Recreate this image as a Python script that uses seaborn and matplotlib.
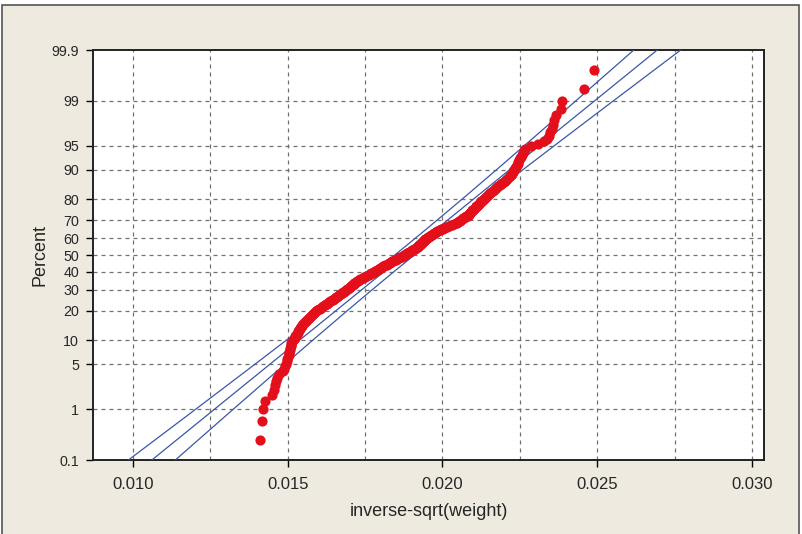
import matplotlib
matplotlib.use("Agg")
import matplotlib.pyplot as plt
from matplotlib.patches import Rectangle
from matplotlib.ticker import FixedLocator, NullFormatter
import numpy as np
import pandas as pd
import seaborn as sns
from statistics import NormalDist

# ---------------- data (sorted inverse-sqrt(weight) values) -------------
values = [
    0.014097, 0.014184, 0.014203, 0.014258, 0.014506, 0.014551, 0.014592, 0.014626, 0.014661, 0.014720,
    0.014845, 0.014881, 0.014918, 0.014955, 0.014974, 0.014991, 0.015008, 0.015026, 0.015043, 0.015055,
    0.015067, 0.015080, 0.015092, 0.015104, 0.015117, 0.015141, 0.015169, 0.015196, 0.015223, 0.015250,
    0.015277, 0.015299, 0.015320, 0.015341, 0.015362, 0.015383, 0.015404, 0.015424, 0.015445, 0.015466,
    0.015489, 0.015522, 0.015555, 0.015589, 0.015622, 0.015655, 0.015689, 0.015722, 0.015756, 0.015789,
    0.015822, 0.015856, 0.015889, 0.015922, 0.015959, 0.015997, 0.016035, 0.016073, 0.016112, 0.016150,
    0.016188, 0.016226, 0.016265, 0.016303, 0.016341, 0.016379, 0.016418, 0.016455, 0.016489, 0.016522,
    0.016555, 0.016589, 0.016622, 0.016655, 0.016689, 0.016722, 0.016756, 0.016789, 0.016822, 0.016856,
    0.016889, 0.016918, 0.016944, 0.016971, 0.016997, 0.017023, 0.017049, 0.017076, 0.017102, 0.017128,
    0.017154, 0.017181, 0.017207, 0.017233, 0.017260, 0.017301, 0.017341, 0.017382, 0.017423, 0.017463,
    0.017504, 0.017544, 0.017585, 0.017625, 0.017666, 0.017706, 0.017747, 0.017787, 0.017824, 0.017857,
    0.017891, 0.017924, 0.017958, 0.017991, 0.018025, 0.018058, 0.018091, 0.018125, 0.018158, 0.018192,
    0.018225, 0.018259, 0.018297, 0.018335, 0.018373, 0.018411, 0.018450, 0.018488, 0.018526, 0.018564,
    0.018602, 0.018640, 0.018679, 0.018717, 0.018755, 0.018789, 0.018821, 0.018852, 0.018883, 0.018914,
    0.018945, 0.018976, 0.019007, 0.019038, 0.019069, 0.019100, 0.019131, 0.019162, 0.019193, 0.019215,
    0.019236, 0.019258, 0.019279, 0.019301, 0.019322, 0.019344, 0.019365, 0.019387, 0.019408, 0.019429,
    0.019451, 0.019472, 0.019498, 0.019530, 0.019561, 0.019592, 0.019623, 0.019655, 0.019686, 0.019717,
    0.019749, 0.019780, 0.019819, 0.019866, 0.019914, 0.019961, 0.020009, 0.020057, 0.020104, 0.020157,
    0.020211, 0.020265, 0.020319, 0.020374, 0.020428, 0.020467, 0.020502, 0.020536, 0.020570, 0.020604,
    0.020638, 0.020672, 0.020706, 0.020740, 0.020775, 0.020809, 0.020841, 0.020862, 0.020883, 0.020904,
    0.020924, 0.020945, 0.020966, 0.020992, 0.021018, 0.021044, 0.021070, 0.021097, 0.021123, 0.021149,
    0.021175, 0.021202, 0.021228, 0.021254, 0.021280, 0.021307, 0.021336, 0.021371, 0.021407, 0.021442,
    0.021477, 0.021512, 0.021547, 0.021582, 0.021618, 0.021653, 0.021688, 0.021723, 0.021763, 0.021805,
    0.021847, 0.021888, 0.021930, 0.021972, 0.022014, 0.022055, 0.022097, 0.022139, 0.022175, 0.022205,
    0.022234, 0.022264, 0.022293, 0.022323, 0.022353, 0.022381, 0.022406, 0.022430, 0.022454, 0.022479,
    0.022503, 0.022527, 0.022554, 0.022593, 0.022633, 0.022673, 0.022865, 0.023073, 0.023282, 0.023388,
    0.023440, 0.023488, 0.023533, 0.023575, 0.023617, 0.023671, 0.023829, 0.023848, 0.024581, 0.024903,
]

# fitted normal line parameters
fit_mean = 0.018775
fit_sd = 0.002642
ci_level_z = 1.96

percent_ticks = [0.1, 1, 5, 10, 20, 30, 40, 50, 60, 70, 80, 90, 95, 99, 99.9]
percent_grid = [1, 5, 10, 20, 30, 40, 50, 60, 70, 80, 90, 95, 99]
x_major_ticks = [0.010, 0.015, 0.020, 0.025, 0.030]
x_minor_grid = [0.0125, 0.0175, 0.0225, 0.0275]
x_tick_labels = ["0.010", "0.015", "0.020", "0.025", "0.030"]
xlabel = "inverse-sqrt(weight)"
ylabel = "Percent"

# ---------------- helpers ----------------
nd = NormalDist()
def probit(pct):
    return nd.inv_cdf(pct / 100.0)

n = len(values)
ranks = np.arange(1, n + 1)
plot_pct = (ranks - 0.3) / (n + 0.4) * 100.0          # median ranks (Benard)
df = pd.DataFrame({"x": values, "z": [probit(p) for p in plot_pct]})

# ---------------- figure ----------------
sns.set_style("white")
plt.rcParams["font.family"] = ["Liberation Sans", "DejaVu Sans"]

W, H = 803, 534
fig = plt.figure(figsize=(W / 100, H / 100), dpi=100, facecolor="white")
fig.patches.append(Rectangle((2.5 / W, -0.02), (799.5 - 2.5) / W, (529.0 / H) + 0.02,
                             transform=fig.transFigure, facecolor="#EEEAE0",
                             edgecolor="#555555", linewidth=1.2, zorder=-10))

ax = fig.add_axes([93 / W, (H - 460) / H, (764 - 93) / W, (460 - 50) / H])
ax.set_facecolor("white")

zlo, zhi = probit(0.1), probit(99.9)

# fit line and confidence bands
zz = np.linspace(zlo - 0.3, zhi + 0.3, 300)
mid = fit_mean + zz * fit_sd
hw = ci_level_z * fit_sd / np.sqrt(n) * np.sqrt(1 + zz ** 2 / 2)
line_color = "#3A57A8"
for xs in (mid, mid - hw, mid + hw):
    ax.plot(xs, zz, color=line_color, lw=0.9, zorder=3)

sns.scatterplot(data=df, x="x", y="z", color="#E3101C", s=54, linewidth=0,
                ax=ax, zorder=4, legend=False)

ax.set_xlim(0.008708, 0.030388)
ax.set_ylim(zlo, zhi)

# ticks
ax.yaxis.set_major_locator(FixedLocator([probit(p) for p in percent_ticks]))
ax.set_yticklabels([("%g" % p) for p in percent_ticks])
ax.xaxis.set_major_locator(FixedLocator(x_major_ticks))
ax.set_xticklabels(x_tick_labels)
ax.xaxis.set_minor_locator(FixedLocator(x_minor_grid))
ax.xaxis.set_minor_formatter(NullFormatter())

ax.tick_params(axis="y", which="major", direction="out", length=5, width=1,
               color="black", labelsize=10.3, pad=5, left=True)
ax.tick_params(axis="x", which="major", direction="out", length=5, width=1,
               color="black", labelsize=12, pad=7, bottom=True)
ax.tick_params(axis="x", which="minor", length=0)

# grid lines (dashed)
grid_kw = dict(color="#707070", lw=0.9, ls=(0, (3.2, 3.2)), zorder=1)
for p in percent_grid:
    ax.axhline(probit(p), **grid_kw)
for xv in x_major_ticks + x_minor_grid:
    ax.axvline(xv, **grid_kw)

for s in ax.spines.values():
    s.set_visible(True)
    s.set_color("#222222")
    s.set_linewidth(1.4)

ax.set_xlabel(xlabel, fontsize=13)
ax.set_ylabel(ylabel, fontsize=13)
ax.xaxis.set_label_coords(0.5, -0.105)
ax.yaxis.set_label_coords(-0.067, 0.5)

fig.savefig("out.png", dpi=100, facecolor=fig.get_facecolor())
